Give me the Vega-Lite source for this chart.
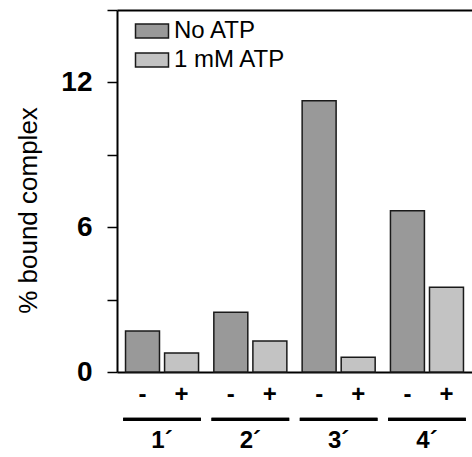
{
  "$schema": "https://vega.github.io/schema/vega-lite/v6.json",
  "width": 355,
  "height": 362,
  "autosize": "none",
  "padding": {"left": 117, "top": 10, "right": 0, "bottom": 85},
  "background": "white",
  "config": {
    "view": {"stroke": null},
    "font": "Liberation Sans"
  },
  "data": {
    "values": [
      {"group": "1´", "atp": "No ATP", "sign": "-", "value": 1.70},
      {"group": "1´", "atp": "1 mM ATP", "sign": "+", "value": 0.79},
      {"group": "2´", "atp": "No ATP", "sign": "-", "value": 2.48},
      {"group": "2´", "atp": "1 mM ATP", "sign": "+", "value": 1.28},
      {"group": "3´", "atp": "No ATP", "sign": "-", "value": 11.24},
      {"group": "3´", "atp": "1 mM ATP", "sign": "+", "value": 0.61},
      {"group": "4´", "atp": "No ATP", "sign": "-", "value": 6.68},
      {"group": "4´", "atp": "1 mM ATP", "sign": "+", "value": 3.51}
    ]
  },
  "resolve": {"axis": {"x": "independent"}},
  "layer": [
    {
      "mark": {"type": "bar", "stroke": "#1a1a1a", "strokeWidth": 1.5},
      "encoding": {
        "x": {
          "field": "group", "type": "nominal", "sort": null,
          "scale": {"paddingInner": 0.12, "paddingOuter": 0.07},
          "axis": {
            "orient": "bottom", "title": null, "labelAngle": 0,
            "ticks": false, "domain": true, "domainColor": "black", "domainWidth": 2,
            "labelFont": "Liberation Sans", "labelFontWeight": "bold", "labelFontSize": 24,
            "labelColor": "black", "labelPadding": 56
          }
        },
        "xOffset": {
          "field": "atp", "type": "nominal",
          "scale": {"domain": ["No ATP", "1 mM ATP"], "paddingInner": 0.13, "paddingOuter": 0.06}
        },
        "y": {
          "field": "value", "type": "quantitative",
          "scale": {"domain": [0, 15], "nice": false},
          "axis": {
            "title": "% bound complex",
            "values": [0, 3, 6, 9, 12, 15],
            "labelExpr": "datum.value % 6 === 0 ? datum.label : ''",
            "grid": false,
            "domainColor": "black", "domainWidth": 2,
            "tickColor": "black", "tickWidth": 1.5, "tickSize": 10,
            "labelFont": "Liberation Sans", "labelFontWeight": "bold", "labelFontSize": 28,
            "labelColor": "black", "labelPadding": 15,
            "titleFont": "Liberation Sans", "titleFontWeight": "normal", "titleFontSize": 26,
            "titleColor": "black", "titleAngle": -90, "titleX": -89, "titleY": 200,
            "titleAlign": "center", "titleBaseline": "middle"
          }
        },
        "color": {
          "field": "atp", "type": "nominal",
          "scale": {"domain": ["No ATP", "1 mM ATP"], "range": ["#999999", "#c3c3c3"]},
          "legend": {
            "title": null, "orient": "none", "legendX": 22, "legendY": 8, "padding": 0,
            "symbolType": "M-1.375,-0.58H1.375V0.58H-1.375Z", "symbolSize": 576,
            "symbolStrokeColor": "#1a1a1a", "symbolStrokeWidth": 1.5, "symbolOpacity": 1,
            "labelFont": "Liberation Sans", "labelFontSize": 24, "labelColor": "black",
            "labelOffset": 9, "rowPadding": 4
          }
        }
      }
    },
    {
      "mark": {"type": "bar", "color": "black"},
      "encoding": {
        "x": {
          "field": "group", "type": "nominal", "sort": null,
          "axis": {"orient": "top", "title": null, "labels": false, "ticks": false, "domain": true, "domainColor": "black", "domainWidth": 2}
        },
        "y": {"datum": -1.9, "type": "quantitative"},
        "y2": {"datum": -2.03}
      }
    },
    {
      "mark": {"type": "text", "font": "Liberation Sans", "fontWeight": "bold", "fontSize": 24, "color": "black", "baseline": "middle"},
      "encoding": {
        "x": {"field": "group", "type": "nominal", "sort": null, "axis": null},
        "xOffset": {"field": "atp", "type": "nominal"},
        "y": {"datum": -0.95, "type": "quantitative"},
        "text": {"field": "sign"}
      }
    }
  ]
}
